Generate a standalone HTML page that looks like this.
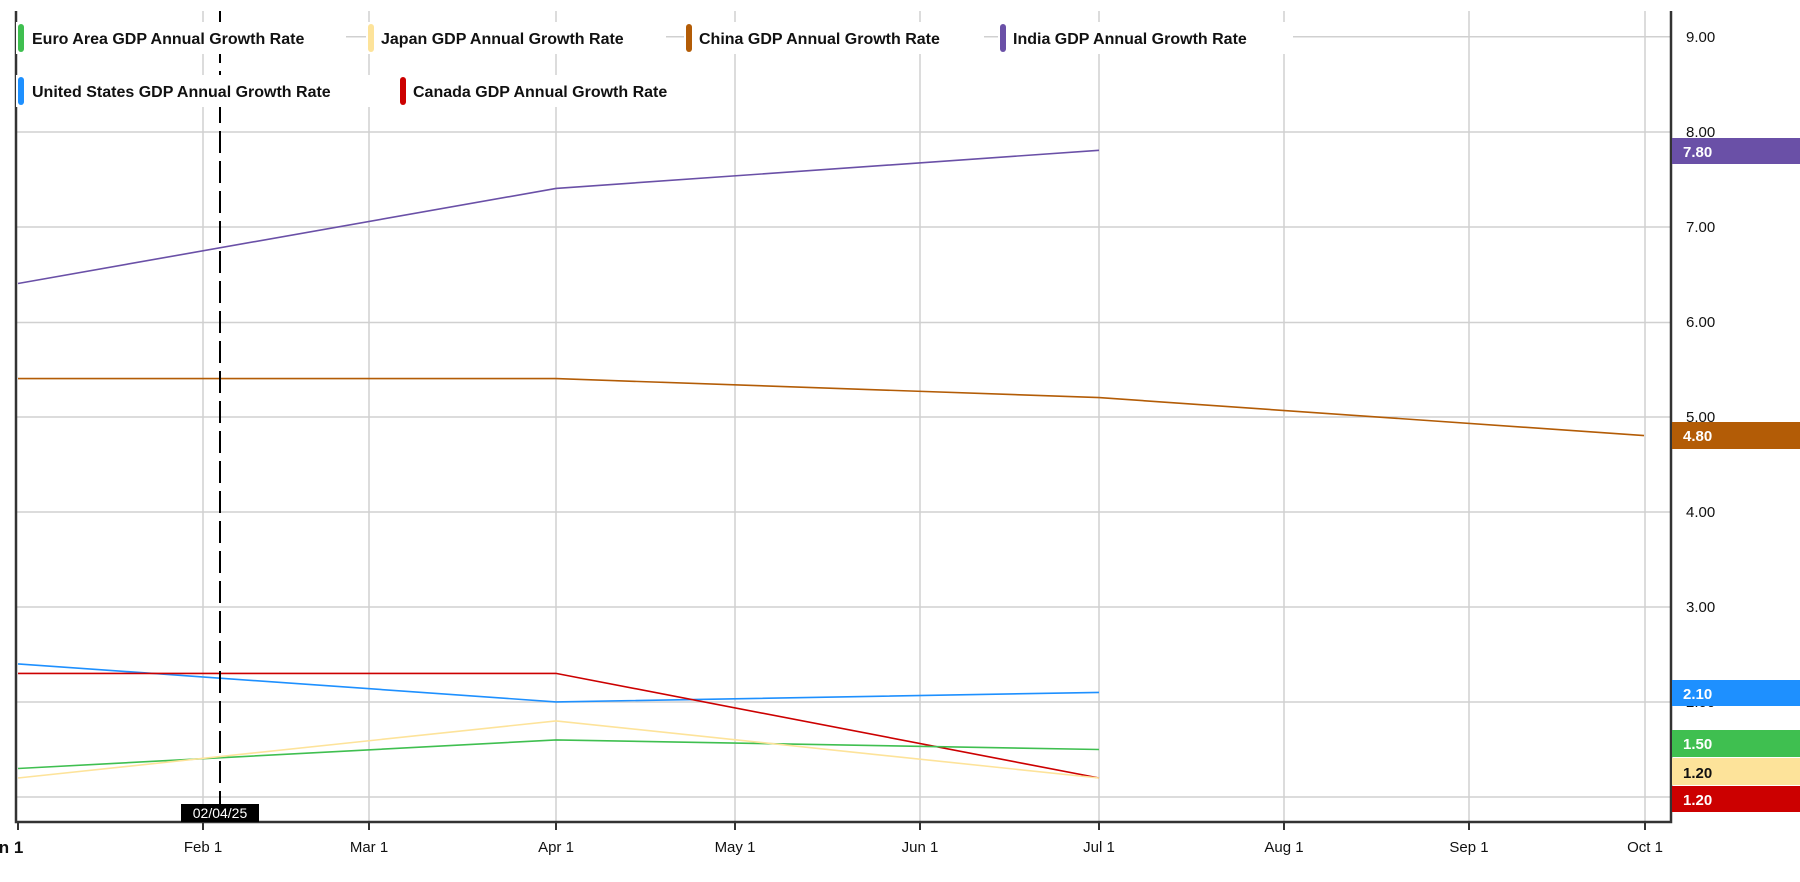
<!DOCTYPE html>
<html><head><meta charset="utf-8"><style>
html,body{margin:0;padding:0;background:#fff;}
svg{display:block;font-family:"Liberation Sans",sans-serif;}
</style></head><body>
<svg width="1800" height="882" xmlns="http://www.w3.org/2000/svg">
<rect width="1800" height="882" fill="#fff"/>
<g stroke="#d0d0d0" stroke-width="1.5">
<line x1="16" x2="1671" y1="36.7" y2="36.7"/>
<line x1="16" x2="1671" y1="132" y2="132"/>
<line x1="16" x2="1671" y1="227" y2="227"/>
<line x1="16" x2="1671" y1="322.5" y2="322.5"/>
<line x1="16" x2="1671" y1="417" y2="417"/>
<line x1="16" x2="1671" y1="512" y2="512"/>
<line x1="16" x2="1671" y1="607" y2="607"/>
<line x1="16" x2="1671" y1="702" y2="702"/>
<line x1="16" x2="1671" y1="797" y2="797"/>
<line x1="203" x2="203" y1="11" y2="822"/>
<line x1="369" x2="369" y1="11" y2="822"/>
<line x1="556" x2="556" y1="11" y2="822"/>
<line x1="735" x2="735" y1="11" y2="822"/>
<line x1="920" x2="920" y1="11" y2="822"/>
<line x1="1099" x2="1099" y1="11" y2="822"/>
<line x1="1284" x2="1284" y1="11" y2="822"/>
<line x1="1469" x2="1469" y1="11" y2="822"/>
<line x1="1645" x2="1645" y1="11" y2="822"/>
</g>
<g fill="none" stroke-width="1.6">
<polyline stroke="#6a50a7" points="18,283.5 556,188.4 1099,150.3"/>
<polyline stroke="#b35c06" points="18,378.6 556,378.6 1099,397.6 1644,435.6"/>
<polyline stroke="#1e90ff" points="18,663.9 556,701.9 1099,692.4"/>
<polyline stroke="#cc0000" points="18,673.4 556,673.4 1099,778"/>
<polyline stroke="#3fbf50" points="18,768.5 556,739.9 1099,749.5"/>
<polyline stroke="#fde39a" points="18,778 556,720.9 1099,778"/>
</g>
<line x1="220" x2="220" y1="11" y2="804" stroke="#000" stroke-width="2" stroke-dasharray="22,8"/>
<g stroke="#333" stroke-width="2.5" fill="none">
<polyline points="16,11 16,822 1671,822 1671,11"/>
</g>
<g stroke="#333" stroke-width="2">
<line x1="18" x2="18" y1="822" y2="830"/><line x1="203" x2="203" y1="822" y2="830"/>
<line x1="369" x2="369" y1="822" y2="830"/><line x1="556" x2="556" y1="822" y2="830"/>
<line x1="735" x2="735" y1="822" y2="830"/><line x1="920" x2="920" y1="822" y2="830"/>
<line x1="1099" x2="1099" y1="822" y2="830"/><line x1="1284" x2="1284" y1="822" y2="830"/>
<line x1="1469" x2="1469" y1="822" y2="830"/><line x1="1645" x2="1645" y1="822" y2="830"/>
</g>
<rect x="181" y="804" width="78" height="18" fill="#000"/>
<text x="220" y="818" fill="#fff" font-size="14" text-anchor="middle">02/04/25</text>
<g font-size="15" fill="#111" text-anchor="middle">
<text x="11" y="853" font-weight="bold" font-size="17">n 1</text>
<text x="203" y="852">Feb 1</text><text x="369" y="852">Mar 1</text><text x="556" y="852">Apr 1</text>
<text x="735" y="852">May 1</text><text x="920" y="852">Jun 1</text><text x="1099" y="852">Jul 1</text>
<text x="1284" y="852">Aug 1</text><text x="1469" y="852">Sep 1</text><text x="1645" y="852">Oct 1</text>
</g>
<g font-size="15" fill="#111">
<text x="1686" y="42">9.00</text><text x="1686" y="137">8.00</text><text x="1686" y="232">7.00</text>
<text x="1686" y="327">6.00</text><text x="1686" y="422">5.00</text><text x="1686" y="517">4.00</text>
<text x="1686" y="612">3.00</text><text x="1686" y="707">2.00</text>
</g>
<g font-size="15" font-weight="bold">
<rect x="1672" y="138" width="128" height="26" fill="#6a50a7"/><text x="1683" y="157" fill="#fff">7.80</text>
<rect x="1672" y="422" width="128" height="27" fill="#b35c06"/><text x="1683" y="441" fill="#fff">4.80</text>
<rect x="1672" y="680" width="128" height="26" fill="#1e90ff"/><text x="1683" y="699" fill="#fff">2.10</text>
<rect x="1672" y="730" width="128" height="27" fill="#3fbf50"/><text x="1683" y="749" fill="#fff">1.50</text>
<rect x="1672" y="758" width="128" height="27" fill="#fde39a"/><text x="1683" y="778" fill="#111">1.20</text>
<rect x="1672" y="786" width="128" height="26" fill="#cc0000"/><text x="1683" y="805" fill="#fff">1.20</text>
</g>
<g font-size="16" font-weight="bold" fill="#111">
<rect x="16" y="22" width="330" height="32" fill="#fff"/><rect x="18" y="24" width="6" height="28" rx="3" fill="#3fbf50"/><text x="32" y="44">Euro Area GDP Annual Growth Rate</text>
<rect x="366" y="22" width="300" height="32" fill="#fff"/><rect x="368" y="24" width="6" height="28" rx="3" fill="#fde39a"/><text x="381" y="44">Japan GDP Annual Growth Rate</text>
<rect x="684" y="22" width="300" height="32" fill="#fff"/><rect x="686" y="24" width="6" height="28" rx="3" fill="#b35c06"/><text x="699" y="44">China GDP Annual Growth Rate</text>
<rect x="998" y="22" width="295" height="32" fill="#fff"/><rect x="1000" y="24" width="6" height="28" rx="3" fill="#6a50a7"/><text x="1013" y="44">India GDP Annual Growth Rate</text>
<rect x="16" y="75" width="365" height="32" fill="#fff"/><rect x="18" y="77" width="6" height="28" rx="3" fill="#1e90ff"/><text x="32" y="97">United States GDP Annual Growth Rate</text>
<rect x="398" y="75" width="310" height="32" fill="#fff"/><rect x="400" y="77" width="6" height="28" rx="3" fill="#cc0000"/><text x="413" y="97">Canada GDP Annual Growth Rate</text>
</g>
</svg>
</body></html>
